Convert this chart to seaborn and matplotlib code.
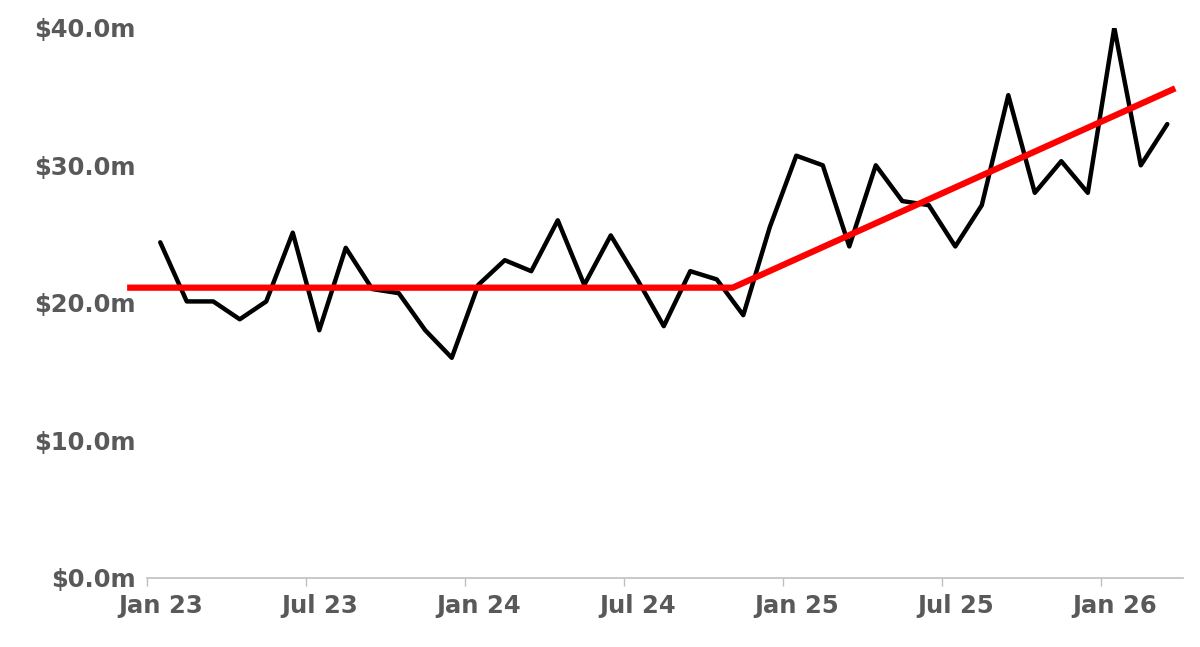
import matplotlib
matplotlib.use("Agg")
import matplotlib.pyplot as plt
import seaborn as sns
import pandas as pd
import numpy as np

values = [24.4, 20.1, 20.1, 18.8, 20.1, 25.1, 18.0, 24.0, 21.0, 20.7, 18.0, 16.0,
          21.3, 23.1, 22.3, 26.0, 21.3, 24.9, 21.7, 18.3, 22.3, 21.7, 19.1, 25.5,
          30.7, 30.0, 24.1, 30.0, 27.4, 27.1, 24.1, 27.1, 35.1, 28.0, 30.3, 28.0,
          40.0, 30.0, 33.0]
months = pd.date_range("2023-01-01", periods=len(values), freq="MS")
tick_labels = ["Jan 23", "Jul 23", "Jan 24", "Jul 24", "Jan 25", "Jul 25", "Jan 26"]
trend_x = [-1.25, 21.6, 38.3]
trend_y = [21.1, 21.1, 35.6]
yticks = [0, 10, 20, 30, 40]

sns.set_theme(style="white")
plt.rcParams['font.family'] = ['DejaVu Sans']
fig = plt.figure(figsize=(12, 6.47), dpi=100)
ax = fig.add_axes([0.1225, 0.107, 0.8635, 0.85])
df = pd.DataFrame({"i": np.arange(len(values)), "v": values})
sns.lineplot(data=df, x="i", y="v", color="black", lw=3.2, ax=ax)
ax.plot(trend_x, trend_y, color="#ff0000", lw=4.5, solid_capstyle="butt", clip_on=False)

ax.set_xlim(-0.5, 38.6)
ax.set_ylim(0, 40)
ax.set_yticks(yticks)
ax.set_yticklabels([f"${v:.1f}m" for v in yticks])
ax.set_xticks(np.arange(0, 37, 6))
ax.set_xticklabels(tick_labels)
ax.set_xticks(np.arange(0, 37, 6) - 0.5, minor=True)
ax.tick_params(axis="x", which="major", length=0, pad=12)
ax.tick_params(axis="x", which="minor", length=6, width=1, color="#bfbfbf", bottom=True)
ax.tick_params(axis="y", length=0, pad=8)
for lab in ax.get_xticklabels() + ax.get_yticklabels():
    lab.set_fontsize(17.5)
    lab.set_fontweight("bold")
    lab.set_color("#595959")
ax.set_xlabel("")
ax.set_ylabel("")
for s in ["left", "right", "top"]:
    ax.spines[s].set_visible(False)
ax.spines["bottom"].set_color("#bfbfbf")
ax.spines["bottom"].set_linewidth(1.2)
fig.savefig("out.png", dpi=100)
